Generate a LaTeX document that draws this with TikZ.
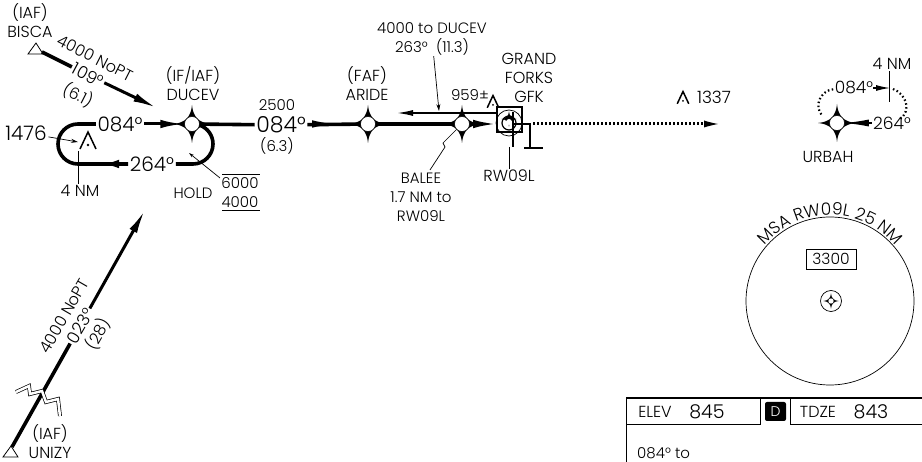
\documentclass[tikz,border=0pt]{standalone}
\usepackage{fontspec}
\setmainfont{Poppins Light}
\usetikzlibrary{arrows.meta}
\usetikzlibrary{decorations.text}

\tikzset{
    lbl/.style={inner sep=1pt,align=center,font=\fontsize{16}{19}\selectfont},
    lblsmall/.style={inner sep=1pt,align=center,font=\fontsize{15}{19}\selectfont},
    crs/.style={inner sep=1.5pt,font=\fontsize{20}{22}\selectfont},
    crsbig/.style={inner sep=1.5pt,font=\fontsize{22}{24}\selectfont},
    crssmall/.style={inner sep=1.5pt,font=\fontsize{17}{18}\selectfont},
    fix/.style={circle,draw,fill=white,inner sep=0,minimum size=15pt,line width=0.5pt},
    track/.style={line width=3.6pt},
    trackarrow/.style={line width=3pt,-{Latex[length=24pt,width=8.5pt]}},
    leader/.style={line width=0.7pt},
    leaderarrow/.style={line width=0.7pt,-{Stealth[length=7pt,width=4pt]}},
    dots/.style={line width=2.2pt,dash pattern=on 1.5pt off 2.5pt},
    tablerule/.style={line width=0.8pt},
    fixstar/.pic={
        \fill (-19,0) .. controls (-7,-1) and (-1,-7) .. (0,-19)
            .. controls (1,-7) and (7,-1) .. (19,0)
            .. controls (7,1) and (1,7) .. (0,19)
            .. controls (-1,7) and (-7,1) .. cycle;
    },
    obstacle/.pic={
        \draw[line width=1.5pt] (-8,8) -- (0,-9) -- (8,8);
        \fill (0,4) circle (1.3);
    },
}

\begin{document}
\begin{tikzpicture}[x=1pt,y=-1pt]
    \useasboundingbox[fill=white] (0,0) rectangle (922,462);

    \pic at (192,124) {fixstar};
    \node[fix] (DUCEV) at (192,124) {};
    \pic at (368,124) {fixstar};
    \node[fix] (ARIDE) at (368,124) {};
    \pic at (462,124) {fixstar};
    \node[fix] (BALEE) at (462,124) {};
    \pic at (837,123) {fixstar};
    \node[fix] (URBAH) at (837,123) {};

    % IAF feeders
    \node[lbl] (BISCAlbl) at (30,20.5) {(IAF)\\BISCA};
    \draw[line width=0.8pt] (28,54) -- (43,54) -- (36,43) -- cycle;
    \coordinate (BISCA) at (42,52);
    \node[crssmall,rotate=-28] (crs109) at (88,75) {109°};
    \node[lbl,rotate=-27] at (95,58) {4000 NoPT};
    \node[lbl,rotate=-27] at (78,95) {(6.1)};
    \coordinate (tipB) at (157,108);
    \draw[track] (BISCA) -- (crs109);
    \draw[trackarrow] (crs109) -- (tipB);

    \node[lbl,inner sep=0] (UNIZYlbl) at (50,442) {(IAF)\\UNIZY};
    \draw[line width=0.8pt] (3,457) -- (18,457) -- (11,446) -- cycle;
    \coordinate (UNIZY) at (12,447);
    \node[crssmall,rotate=60] (crs023) at (80,326) {023°};
    \node[lbl,rotate=60] at (64,316) {4000 NoPT};
    \node[lbl,rotate=60] at (98,334) {(28)};
    \coordinate (tipU) at (145,210);
    \draw[track] (UNIZY) -- (crs023);
    \draw[trackarrow] (crs023) -- (tipU);
    \draw[line width=0.7pt,double=white,double distance=2.5pt]
        (16,392) -- (29,386) -- (30,394) -- (42,391) -- (46,402) -- (58,399) -- (60,416);

    % hold
    \node[crs] (hold084) at (120,124) {084°};
    \node[crs] (hold264) at (152,164) {264°};
    \draw[track] (hold084) -- (78,124) arc[start angle=270,end angle=90,radius=20] -- (hold264);
    \draw[line width=0pt,-{Latex[length=14pt,width=8.5pt]}] (125,164) -- (105,164);
    \draw[trackarrow] (hold084) -- (DUCEV);
    \draw[track] (hold264) -- (193,164) arc[start angle=90,end angle=-70,radius=20];
    \pic at (88,141) {obstacle};
    \node[crs] (elev1476) at (26,133) {1476};
    \coordinate (obst1476) at (78,142);
    \draw[leaderarrow] (elev1476) -- (obst1476);
    \node[lbl] (holdlen) at (80,190.5) {4 NM};
    \coordinate (holdtick) at (78,151);
    \draw[leader] (holdtick) -- (holdtick |- holdlen.north);
    \node[lblsmall] at (193,193) {HOLD};
    \node[lblsmall] (alt6000) at (240,192.5) {6000\\4000};
    \draw[line width=0.9pt] (222,174) -- (260,174);
    \draw[line width=0.9pt] (222,210) -- (260,210);
    \coordinate (holdtip) at (189,153);
    \coordinate (holdfoot) at (220,178);
    \draw[leader,-{Stealth[length=5pt,width=3pt]}] (holdfoot) -- (holdtip);

    % final approach
    \node[lbl] (IFlbl) at (193,84) {(IF/IAF)\\DUCEV};
    \node[lblsmall] at (277,105) {2500};
    \node[crsbig] (crs084) at (281,125) {084°};
    \node[lblsmall] at (277,146) {(6.3)};
    \draw[track] (DUCEV) -- (crs084);
    \node[lbl] at (367,83.5) {(FAF)\\ARIDE};
    \coordinate (tipR) at (497,124);
    \draw[track] (crs084) -- (ARIDE);
    \draw[track] (ARIDE) -- (BALEE);
    \draw[trackarrow] (BALEE) -- (tipR);
    \draw[line width=0pt,-{Latex[length=20pt,width=7.5pt]}] (315,124) -- (332,124);
    \draw[line width=1.4pt,-{Latex[length=16pt,width=6pt]}] (497,113) -- (397,113);
    \node[lblsmall] (toDUCEV) at (432,38.5) {4000 to DUCEV\\263°\ \ (11.3)};
    \coordinate (tipD) at (439,111);
    \draw[leaderarrow] (toDUCEV) -- (tipD);
    \node[lblsmall] (BALEElbl) at (421,197.5) {BALEE\\1.7 NM to\\RW09L};
    \coordinate (BALEEfoot) at (430,170);
    \draw[leader] (BALEEfoot) -- (445,147) -- (443,143) -- (BALEE);

    % airport
    \node[lblsmall] at (470,95) {959±};
    \pic[scale=0.72] at (493,102) {obstacle};
    \node[lbl] at (529,78) {GRAND\\FORKS\\GFK};
    \node[draw,line width=1.4pt,minimum size=25pt,inner sep=0,fill=white] (GFK) at (509.5,119.5) {};
    \draw[line width=0.7pt] (509,123) circle (13);
    \draw[line width=1.2pt] (509,123) circle (7);
    \pic[scale=0.4] at (509,119) {fixstar};
    \fill[white] (509,122) circle (3);
    \coordinate (thr) at (513,147);
    \draw[line width=1.6pt] (513,112) -- (thr);
    \coordinate (rwy) at (513,124);
    \coordinate (rwyend) at (530,148);
    \draw[line width=1.6pt] (rwy) -| (rwyend);
    \draw[line width=1.6pt] (524,148) -- (543,148);
    \node[lbl] (RWlbl) at (509,176) {RW09L};
    \coordinate (RWtop) at (509,147);
    \draw[leader] (RWtop) -- (RWlbl);
    \coordinate (miss) at (533,124);
    \coordinate (tipM) at (718,124);
    \draw[line width=3pt,dash pattern=on 1.6pt off 2.4pt] (miss) -- (704,124);
    \draw[line width=0pt,-{Latex[length=14pt,width=7pt]}] (704,124) -- (tipM);
    \pic[scale=0.72] at (683,98) {obstacle};
    \node[crssmall] at (714,97) {1337};

    % missed approach hold
    \node[crssmall] (mis084) at (854,88) {084°};
    \node[crssmall] (mis264) at (892,123) {264°};
    \node[lbl] at (828,157) {URBAH};
    \node[lbl] (mislen) at (892,64) {4 NM};
    \coordinate (mistick) at (889,102);
    \draw[leader] (mistick) -- (mistick |- mislen.south);
    \coordinate (mistip) at (890,88);
    \draw[line width=1.2pt,-{Latex[length=14pt,width=6pt]}] (mistip) ++(-17,0) -- (mistip);
    \draw[line width=1.2pt,-{Latex[length=24pt,width=7pt]}] (mis264) -- (URBAH);
    \draw[dots] (mis084) .. controls (822,90) and (812,106) .. (823,116);
    \draw[dots] (893,89) .. controls (906,94) and (912,110) .. (900,119);

    % MSA circle
    \node[circle,draw,line width=0.7pt,minimum size=168pt,inner sep=0] (MSA) at (830,301) {};
    \path[postaction={decorate,decoration={text along path,text align=center,
        text={|\fontsize{17}{19}\selectfont|MSA RW09L 25 NM}}}]
        (763.2,246.9) arc[start angle=219,end angle=321,radius=86];
    \node[draw,line width=0.7pt,minimum width=50pt,minimum height=20pt,inner sep=0,
        font=\fontsize{15.5}{17}\selectfont] (MSAalt) at (831,259) {3300};
    \node[circle,draw,line width=0.7pt,minimum size=21pt,inner sep=0] (MSAvor) at (831,301) {};
    \pic[scale=0.4] at (MSAvor.center) {fixstar};
    \node[circle,draw,fill=white,line width=0.4pt,minimum size=6pt,inner sep=0] at (MSAvor.center) {};

    % data table
    \draw[line width=1.2pt] (626,398) -- (922,398);
    \draw[tablerule] (626,398) -- (626,462);
    \draw[tablerule] (626,424) -- (760,424) -- (760,398);
    \draw[tablerule] (922,424) -- (790,424) -- (790,398);
    \node[lbl] at (655,412) {ELEV};
    \node[crssmall,font=\fontsize{19}{20}\selectfont] at (707,412) {845};
    \node[fill=black,text=white,rounded corners=2pt,minimum width=21pt,minimum height=19pt,
        inner sep=0,font=\fontsize{14}{15}\selectfont] at (775.5,411.5) {D};
    \node[lbl] at (818,412) {TDZE};
    \node[crssmall,font=\fontsize{19}{20}\selectfont] at (871,412) {843};
    \node[lblsmall,anchor=west,inner sep=0] at (637,453) {084° to};
\end{tikzpicture}
\end{document}
